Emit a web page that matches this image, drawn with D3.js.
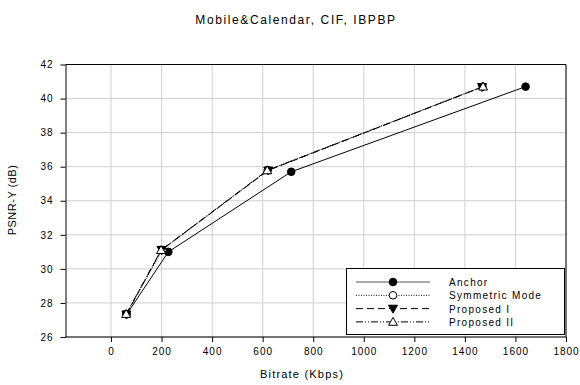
<!DOCTYPE html>
<html><head><meta charset="utf-8">
<script src="https://cdn.jsdelivr.net/npm/d3@7"></script>
<style>
body{margin:0;background:#fff;}
svg text{font-family:"Liberation Sans",Arial,sans-serif;fill:#000;}
</style></head>
<body><svg id="c" width="580" height="385"></svg>
<script>
const title = "Mobile&Calendar, CIF, IBPBP";
const xLabel = "Bitrate (Kbps)";
const yLabel = "PSNR-Y (dB)";
const xTicks = [0,200,400,600,800,1000,1200,1400,1600,1800];
const yTicks = [26,28,30,32,34,36,38,40,42];
const seriesNames = ["Anchor","Symmetric Mode","Proposed I","Proposed II"];
const anchorBitrate = [62,227,713,1640];
const anchorPSNR = [27.33,31.0,35.7,40.7];
const symBitrate = [60,203,620,1470];
const symPSNR = [27.35,31.1,35.8,40.7];
const p1Bitrate = [61,200,622,1468];
const p1PSNR = [27.33,31.12,35.78,40.68];
const p2Bitrate = [60,198,618,1472];
const p2PSNR = [27.35,31.1,35.78,40.7];

const svg = d3.select("#c");
const L=65.5, R=566, T=64.5, B=337;
const x = d3.scaleLinear().domain([-180,1800]).range([L,R]);
const y = d3.scaleLinear().domain([26,42]).range([B,T]);

// gridlines
svg.append("g").selectAll("line").data(xTicks).join("line")
  .attr("x1",d=>x(d)).attr("x2",d=>x(d)).attr("y1",T).attr("y2",B)
  .attr("stroke","#d0d0d0").attr("stroke-width",1);
svg.append("g").selectAll("line").data(yTicks).join("line")
  .attr("x1",L).attr("x2",R).attr("y1",d=>y(d)).attr("y2",d=>y(d))
  .attr("stroke","#d0d0d0").attr("stroke-width",1);

// frame top/right
svg.append("path").attr("d",`M${L},${T}H${R}V${B}`).attr("fill","none").attr("stroke","#000").attr("stroke-width",1);

const fmt = d3.format("d");
const xa = svg.append("g").attr("transform",`translate(0,${B})`)
  .call(d3.axisBottom(x).tickValues(xTicks).tickFormat(fmt).tickSize(5).tickPadding(6).tickSizeOuter(0));
const ya = svg.append("g").attr("transform",`translate(${L},0)`)
  .call(d3.axisLeft(y).tickValues(yTicks).tickFormat(fmt).tickSize(5).tickPadding(7).tickSizeOuter(0));
[xa,ya].forEach(a=>{
  a.select(".domain").attr("stroke","#000");
  a.selectAll(".tick line").attr("stroke","#000");
  a.selectAll("text").attr("font-size",10).style("letter-spacing","1px").attr("font-family","Liberation Sans, Arial, sans-serif");
});
xa.select(".domain").attr("d",`M${L},0H${R}`);

const styles = [
  {dash:null, marker:"circle", fill:"#000"},
  {dash:"1,1.5", marker:"circle", fill:"#fff"},
  {dash:"7,4", marker:"tridown", fill:"#000"},
  {dash:"7,2,1,2,1,2", marker:"triup", fill:"#fff"}
];
const data = [
  d3.zip(anchorBitrate,anchorPSNR),
  d3.zip(symBitrate,symPSNR),
  d3.zip(p1Bitrate,p1PSNR),
  d3.zip(p2Bitrate,p2PSNR)
];
const line = d3.line().x(d=>x(d[0])).y(d=>y(d[1]));

function drawMarker(g,type,cx,cy,fill){
  if(type==="circle"){
    g.append("circle").attr("cx",cx).attr("cy",cy).attr("r",3.8)
      .attr("fill",fill).attr("stroke","#000").attr("stroke-width",1);
  } else {
    const s=4.5;
    const pts = type==="triup"
      ? [[cx,cy-s],[cx+s,cy+s*0.75],[cx-s,cy+s*0.75]]
      : [[cx,cy+s],[cx+s,cy-s*0.75],[cx-s,cy-s*0.75]];
    g.append("polygon").attr("points",pts.map(p=>p.join(",")).join(" "))
      .attr("fill",fill).attr("stroke","#000").attr("stroke-width",1);
  }
}

data.forEach((ds,i)=>{
  const st=styles[i];
  svg.append("path").datum(ds).attr("d",line).attr("fill","none")
    .attr("stroke","#000").attr("stroke-width",1)
    .attr("stroke-dasharray",st.dash);
});
data.forEach((ds,i)=>{
  const st=styles[i];
  const g=svg.append("g");
  ds.forEach(d=>drawMarker(g,st.marker,x(d[0]),y(d[1]),st.fill));
});

// legend
const lg = svg.append("g");
lg.append("rect").attr("x",346.5).attr("y",268.5).attr("width",218).attr("height",66)
  .attr("fill","#fff").attr("stroke","#000").attr("stroke-width",1);
seriesNames.forEach((n,i)=>{
  const yy = 282 + i*13.3;
  const st=styles[i];
  lg.append("line").attr("x1",356).attr("x2",430).attr("y1",yy).attr("y2",yy)
    .attr("stroke",i===0?"#555":"#000").attr("stroke-width",1).attr("stroke-dasharray",st.dash);
  drawMarker(lg,st.marker,393,yy,st.fill);
  lg.append("text").attr("x",449).attr("y",yy+4).attr("font-size",10)
    .style("letter-spacing","1.3px").text(n);
});

svg.append("text").attr("x",296).attr("y",24).attr("text-anchor","middle")
  .attr("font-size",12).style("letter-spacing","1.6px").text(title);
svg.append("text").attr("x",302).attr("y",378).attr("text-anchor","middle")
  .attr("font-size",11).style("letter-spacing","1.2px").text(xLabel);
svg.append("text").attr("transform","translate(16,200) rotate(-90)").attr("text-anchor","middle")
  .attr("font-size",11).style("letter-spacing","0.5px").text(yLabel);
</script></body></html>
